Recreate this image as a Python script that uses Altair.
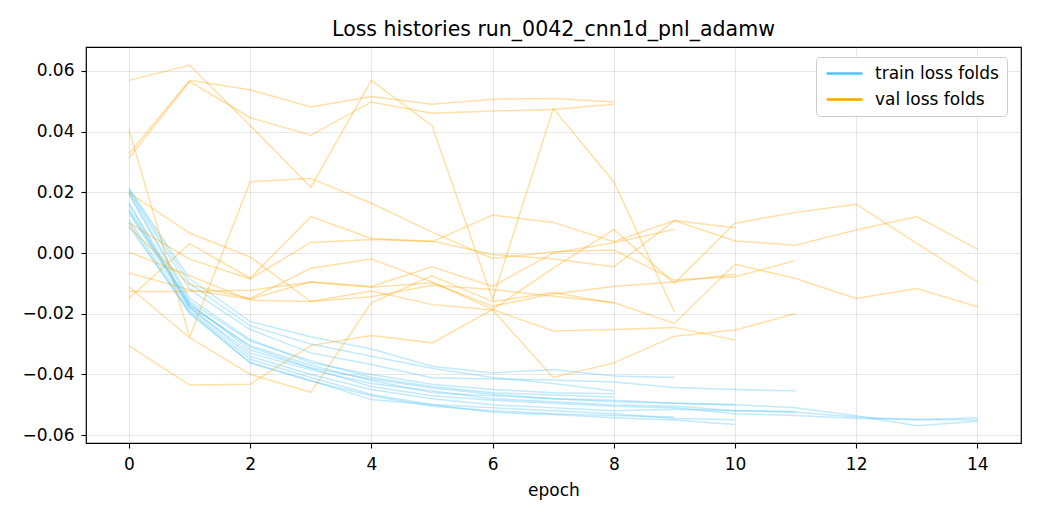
import altair as alt
import pandas as pd

series_names = ["train loss folds", "val loss folds"]
series_colors = ["#4fc3f7", "#ffa500"]

# train loss per fold (epoch 0..n)
train_folds = [
    [0.0198, -0.015, -0.0285, -0.0362, -0.040, -0.0432, -0.045, -0.046, -0.0464],
    [0.0193, -0.016, -0.029, -0.0355, -0.041, -0.044, -0.046, -0.0468, -0.0474],
    [0.0209, -0.010, -0.024, -0.030, -0.034, -0.038, -0.041, -0.043, -0.0455],
    [0.0215, -0.0085, -0.0226, -0.0276, -0.0316, -0.0373, -0.0395, -0.0384, -0.0405, -0.041],
    [0.0088, -0.0195, -0.0363, -0.0422, -0.047, -0.0505, -0.052, -0.053, -0.0535, -0.054],
    [0.011, -0.019, -0.035, -0.041, -0.0466, -0.0499, -0.051, -0.052, -0.053, -0.0545, -0.0549],
    [0.0099, -0.020, -0.036, -0.042, -0.0483, -0.050, -0.0525, -0.0532, -0.0543, -0.055, -0.0565],
    [0.0145, -0.0175, -0.0305, -0.037, -0.042, -0.046, -0.047, -0.048, -0.049, -0.0495, -0.050],
    [0.0205, -0.012, -0.0252, -0.0329, -0.0367, -0.0411, -0.0415, -0.0418, -0.0425, -0.0443, -0.045, -0.0454],
    [0.0132, -0.018, -0.034, -0.040, -0.045, -0.048, -0.050, -0.051, -0.052, -0.0515, -0.052, -0.0522],
    [0.0165, -0.017, -0.031, -0.0378, -0.0415, -0.0445, -0.0465, -0.048, -0.0485, -0.0495, -0.050, -0.051, -0.0536, -0.0569, -0.0554],
    [0.016, -0.018, -0.033, -0.0385, -0.043, -0.0455, -0.048, -0.049, -0.050, -0.0505, -0.052, -0.0525, -0.054, -0.055, -0.0543],
    [0.0138, -0.0165, -0.032, -0.038, -0.044, -0.047, -0.0485, -0.0495, -0.0505, -0.051, -0.053, -0.0535, -0.0545, -0.0548, -0.055],
]

# validation loss per fold (epoch 0..n)
val_folds = [
    [0.0327, 0.0569, 0.0538, 0.0481, 0.0516, 0.049, 0.0507, 0.0509, 0.0498],
    [0.0313, 0.0565, 0.0446, 0.0388, 0.0498, 0.0461, 0.0468, 0.0473, 0.049],
    [-0.0112, -0.0279, -0.040, -0.0459, -0.0164, -0.0075, -0.016, -0.013, -0.0165],
    [0.0569, 0.0619, 0.042, 0.0217, 0.0569, 0.042, -0.0153, 0.0476, 0.0235, -0.0194],
    [-0.0066, -0.0121, -0.0152, -0.0095, -0.011, -0.0045, -0.011, 0.0, 0.0034, 0.0078],
    [-0.0306, -0.0435, -0.0432, -0.0305, -0.0272, -0.0296, -0.0186, -0.0257, -0.0252, -0.0245, -0.0287],
    [-0.0149, 0.0031, -0.0083, 0.012, 0.0048, 0.0037, 0.0125, 0.0101, 0.0037, 0.0107, 0.0083],
    [-0.0127, -0.0127, -0.0123, -0.0096, -0.0113, -0.0098, -0.0175, -0.0135, -0.011, -0.0095, -0.007],
    [0.0406, -0.0276, 0.0235, 0.0246, 0.0164, 0.0069, -0.0018, 0.0004, 0.001, -0.0089, -0.0078, -0.0025],
    [0.0003, -0.0075, -0.0155, -0.016, -0.0125, -0.017, -0.0188, -0.041, -0.0362, -0.0274, -0.0254, -0.0199],
    [0.0198, 0.0066, -0.0013, -0.016, -0.0144, -0.0106, -0.012, -0.0142, -0.0163, -0.0232, -0.0037, -0.0084, -0.015, -0.0117, -0.0177],
    [0.0099, -0.002, -0.0085, 0.0035, 0.0045, 0.004, -0.0005, -0.002, -0.0045, 0.0107, 0.004, 0.0026, 0.0076, 0.012, 0.0013],
    [0.0086, -0.0105, -0.015, -0.005, -0.002, -0.0095, -0.0186, -0.005, 0.0078, -0.010, 0.0098, 0.0134, 0.0161, 0.0032, -0.0095],
]

x_ticks = [0, 2, 4, 6, 8, 10, 12, 14]
y_ticks = [-0.06, -0.04, -0.02, 0.0, 0.02, 0.04, 0.06]

rows = []
for i, (tr, va) in enumerate(zip(train_folds, val_folds)):
    for e, v in enumerate(tr):
        rows.append({"fold": i, "kind": series_names[0], "epoch": e, "loss": v})
    for e, v in enumerate(va):
        rows.append({"fold": i, "kind": series_names[1], "epoch": e, "loss": v})
df = pd.DataFrame(rows)
df["series"] = df["kind"] + "_" + df["fold"].astype(str)

FONT = "DejaVu Sans"
FS = 17

chart = (
    alt.Chart(df)
    .mark_line(strokeWidth=1.5, opacity=0.35)
    .encode(
        x=alt.X(
            "epoch:Q",
            scale=alt.Scale(domain=[-0.71, 14.72], nice=False, zero=False),
            axis=alt.Axis(values=x_ticks, format="d", title="epoch"),
        ),
        y=alt.Y(
            "loss:Q",
            scale=alt.Scale(domain=[-0.0626, 0.0679], nice=False, zero=False),
            axis=alt.Axis(values=y_ticks, format=".2f", title=None),
        ),
        color=alt.Color(
            "kind:N",
            scale=alt.Scale(domain=series_names, range=series_colors),
            legend=alt.Legend(
                title=None,
                orient="none",
                legendX=730,
                legendY=10,
                symbolType="M-1,0L5,0",
                symbolSize=144,
                symbolStrokeWidth=2.5,
                symbolOpacity=1,
                labelFontSize=FS,
                labelFont=FONT,
                labelColor="black",
                padding=8,
                rowPadding=8,
                strokeColor="#cccccc",
                fillColor="white",
                cornerRadius=4,
                labelOffset=34,
            ),
        ),
        detail="series:N",
    )
    .properties(
        width=935,
        height=396,
        background="white",
        autosize=alt.AutoSizeParams(type="none"),
        padding={"left": 78, "top": 39, "right": 11, "bottom": 69},
        title=alt.TitleParams(
            "Loss histories run_0042_cnn1d_pnl_adamw",
            font=FONT,
            fontSize=20.5,
            fontWeight="normal",
            color="black",
            anchor="middle",
            offset=7,
        ),
    )
    .configure_view(stroke="black", strokeWidth=1.2)
    .configure_axis(
        labelFont=FONT,
        labelFontSize=FS,
        labelColor="black",
        titleFont=FONT,
        titleFontSize=FS,
        titleFontWeight="normal",
        titleColor="black",
        tickColor="black",
        tickSize=5,
        tickWidth=1.1,
        labelPadding=7,
        domain=False,
        grid=True,
        gridColor="#b0b0b0",
        gridOpacity=0.3,
        gridWidth=1.1,
    )
    .configure_axisX(labelPadding=8, titlePadding=10)
)

chart.save("out.html", embed_options={"renderer": "svg", "actions": False})
